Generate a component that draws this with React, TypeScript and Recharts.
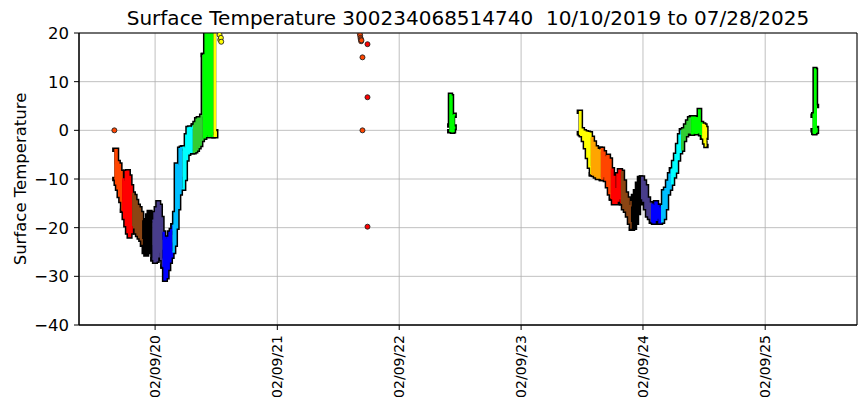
import React from 'react';
import { ComposedChart, Area, Scatter, XAxis, YAxis, CartesianGrid, ReferenceArea } from 'recharts';

const W = 863;
const H = 408;
const FONT = '"DejaVu Sans", sans-serif';

const titleText = 'Surface Temperature 300234068514740  10/10/2019 to 07/28/2025';
const yLabelText = 'Surface Temperature';
const firstDate = '2019-10-10';
const lastDate = '2025-07-28';

const xTickDates = ['2020-02-09', '2021-02-09', '2022-02-09', '2023-02-09', '2024-02-09', '2025-02-09'];
const yTicks = [-40, -30, -20, -10, 0, 10, 20];

// colour of each calendar month (Jan..Dec)
const monthColors = ['#000000', '#483D8B', '#0000FF', '#00BFFF', '#00FFFF', '#32CD32', '#00FF00', '#FFFF00', '#FFA500', '#FF4500', '#FF0000', '#8B4513'];

// season 2019-2020: envelope (low .. high)
const season1Dates = [
  '2019-10-10', '2019-10-14', '2019-10-18', '2019-10-23', '2019-10-28',
  '2019-11-02', '2019-11-07', '2019-11-12', '2019-11-17', '2019-11-22', '2019-11-27',
  '2019-12-02', '2019-12-07', '2019-12-12', '2019-12-17', '2019-12-22', '2019-12-27',
  '2020-01-01', '2020-01-06', '2020-01-11', '2020-01-16', '2020-01-21', '2020-01-26',
  '2020-02-01', '2020-02-06', '2020-02-11', '2020-02-16', '2020-02-21', '2020-02-26',
  '2020-03-02', '2020-03-07', '2020-03-12', '2020-03-17', '2020-03-22', '2020-03-27',
  '2020-04-01', '2020-04-06', '2020-04-11', '2020-04-16', '2020-04-21', '2020-04-26',
  '2020-05-01', '2020-05-06', '2020-05-11', '2020-05-16', '2020-05-21', '2020-05-26',
  '2020-06-01', '2020-06-06', '2020-06-11', '2020-06-16', '2020-06-21', '2020-06-26',
  '2020-07-01', '2020-07-04', '2020-07-08', '2020-07-13', '2020-07-18', '2020-07-23', '2020-07-28',
  '2020-08-02', '2020-08-06', '2020-08-10',
];
const season1High = [
  -4.0, -4.0, -6.5, -7.0, -8.5,
  -10.0, -10.5, -8.5, -8.4, -9.5, -11.5,
  -13.0, -13.5, -14.5, -15.5, -16.0, -17.0,
  -18.5, -19.5, -19.0, -17.5, -16.8, -18.0,
  -18.5, -17.0, -16.0, -14.8, -15.5, -18.0,
  -21.0, -22.0, -22.5, -22.0, -21.0, -20.5,
  -19.5, -17.0, -7.0, -7.3, -3.8, -3.6,
  -3.5, -3.8, -1.0, 0.5, 0.6, 0.5,
  1.0, 1.5, 2.3, 2.5, 2.5, 3.0,
  15.5, 9.0, 21.0, 21.0, 21.0, 21.0, 21.0,
  21.0, 21.0, 21.0,
];
const season1Low = [
  -10.0, -11.0, -12.0, -13.5, -14.5,
  -16.5, -18.0, -19.5, -21.0, -21.8, -21.0,
  -19.5, -20.0, -21.0, -21.5, -22.0, -22.5,
  -23.5, -25.0, -25.5, -25.0, -24.0, -25.0,
  -26.5, -27.0, -26.8, -26.0, -25.0, -26.5,
  -28.0, -30.7, -30.2, -28.5, -27.0, -26.0,
  -25.0, -23.5, -20.0, -16.0, -13.0, -12.0,
  -12.0, -10.0, -6.0, -4.8, -4.5, -4.5,
  -4.5, -4.3, -4.0, -3.5, -3.0, -2.0,
  -1.5, -1.5, -1.2, -0.8, -1.2, -0.8, -1.2,
  -1.2, -1.2, -0.2,
];

// season 2022
const season2Dates = ['2022-07-09', '2022-07-11', '2022-07-14', '2022-07-17', '2022-07-20', '2022-07-23', '2022-07-25'];
const season2High = [1.0, 7.3, 7.0, 1.5, 3.0, 3.2, 3.0];
const season2Low = [-0.2, -0.2, -0.2, -0.3, -0.2, 0.5, 0.8];

// season 2023-2024
const season3Dates = [
  '2023-08-01', '2023-08-04', '2023-08-07', '2023-08-13', '2023-08-19', '2023-08-25', '2023-08-31',
  '2023-09-06', '2023-09-12', '2023-09-18', '2023-09-24', '2023-09-30',
  '2023-10-06', '2023-10-12', '2023-10-18', '2023-10-24', '2023-10-30',
  '2023-11-05', '2023-11-11', '2023-11-17', '2023-11-23', '2023-11-29',
  '2023-12-05', '2023-12-11', '2023-12-17', '2023-12-23', '2023-12-29',
  '2024-01-04', '2024-01-10', '2024-01-16', '2024-01-22', '2024-01-28',
  '2024-02-03', '2024-02-09', '2024-02-15', '2024-02-21', '2024-02-27',
  '2024-03-04', '2024-03-10', '2024-03-16', '2024-03-22', '2024-03-28',
  '2024-04-03', '2024-04-09', '2024-04-15', '2024-04-21', '2024-04-27',
  '2024-05-03', '2024-05-09', '2024-05-15', '2024-05-21', '2024-05-27',
  '2024-06-02', '2024-06-08', '2024-06-14', '2024-06-20', '2024-06-26',
  '2024-07-02', '2024-07-08', '2024-07-14', '2024-07-20', '2024-07-25', '2024-07-29',
  '2024-08-04', '2024-08-10', '2024-08-14', '2024-08-17',
];
const season3High = [
  3.8, 3.8, 0.2, -0.2, -0.4, -0.5, -0.6,
  -1.5, -2.5, -3.5, -4.0, -4.2,
  -3.8, -4.5, -5.5, -5.2, -6.0,
  -8.0, -9.5, -12.0, -9.0, -8.2,
  -8.5, -10.5, -13.0, -14.0, -15.5,
  -14.5, -13.5, -12.5, -11.0, -9.8,
  -9.7, -10.5, -11.5, -14.0, -15.0,
  -15.2, -15.5, -14.8, -15.5, -16.0,
  -15.5, -12.5, -12.0, -10.5, -9.0,
  -8.0, -6.5, -5.0, -3.0, -1.0,
  0.0, 0.2, 1.0, 1.8, 2.5,
  2.7, 2.7, 2.6, 2.5, 4.2, 1.5,
  1.2, 1.0, 0.5, -1.5,
];
const season3Low = [
  -0.6, -0.8, -1.0, -2.0, -3.5, -5.5, -7.5,
  -9.0, -9.2, -9.5, -9.8, -9.8,
  -10.0, -9.5, -10.2, -11.5, -13.0,
  -14.0, -15.0, -15.0, -14.5, -14.0,
  -15.0, -16.0, -16.5, -17.5, -19.0,
  -20.2, -20.0, -19.0, -17.0, -15.0,
  -14.0, -14.5, -16.0, -17.5, -18.0,
  -18.8, -19.0, -18.5, -18.0, -19.0,
  -18.8, -18.0, -16.0, -13.0, -12.0,
  -11.0, -9.5, -8.5, -6.0, -4.5,
  -4.0, -2.0, -1.0, -0.5, -0.5,
  -0.7, -0.5, -0.6, -0.5, -0.5, -0.8,
  -1.5, -2.5, -3.2, -3.2,
];

// season 2025
const season4Dates = ['2025-07-01', '2025-07-03', '2025-07-05', '2025-07-07', '2025-07-09', '2025-07-11', '2025-07-14'];
const season4High = [3.0, 3.3, 3.0, 12.6, 12.4, 5.0, 5.0];
const season4Low = [0.0, -0.5, -0.6, -0.6, -0.4, -0.3, 0.5];

// isolated readings
const dotDates = [
  '2019-10-10', '2020-08-20', '2020-08-22', '2020-08-24', '2020-08-25',
  '2021-10-14', '2021-10-15', '2021-10-16', '2021-10-17', '2021-10-18', '2021-10-19',
  '2021-10-22', '2021-10-22', '2021-11-06', '2021-11-06', '2021-11-06',
];
const dotValues = [
  0.0, 19.6, 18.6, 19.0, 18.2,
  19.9, 19.5, 19.0, 18.7, 18.3, 18.5,
  15.0, 0.0, 17.7, 6.8, -19.8,
];

const DAY = 86400000;
const toMs = (s: string) => Date.parse(s + 'T00:00:00Z');
const monthOf = (t: number) => new Date(t).getUTCMonth();

const seasons = [
  { dates: season1Dates, high: season1High, low: season1Low },
  { dates: season2Dates, high: season2High, low: season2Low },
  { dates: season3Dates, high: season3High, low: season3Low },
  { dates: season4Dates, high: season4High, low: season4Low },
];

const rows: any[] = [];
seasons.forEach((s) => {
  let prev = -1;
  s.dates.forEach((d, i) => {
    const t = toMs(d);
    const m = monthOf(t);
    const row: any = { t };
    row['m' + m] = [s.low[i], s.high[i]];
    if (prev >= 0 && prev !== m) row['m' + prev] = [s.low[i], s.high[i]];
    prev = m;
    rows.push(row);
  });
  rows.push({ t: toMs(s.dates[s.dates.length - 1]) + DAY });
});

const dots = dotDates.map((d, i) => ({ t: toMs(d), v: dotValues[i], m: monthOf(toMs(d)) }));

const t0 = toMs(firstDate);
const t1 = toMs(lastDate);
const pad = (t1 - t0) * 0.05;
const xDomain = [t0 - pad, t1 + pad];
const xTicks = xTickDates.map(toMs);

const two = (n: number) => (n < 10 ? '0' + n : String(n));
const fmtDate = (v: number) => {
  const d = new Date(v);
  return two(d.getUTCMonth() + 1) + '/' + two(d.getUTCDate()) + '/' + two(d.getUTCFullYear() % 100);
};
const fmtY = (v: number) => (v < 0 ? '\u2212' + Math.abs(v) : String(v));

const XTick = (props: any) => {
  const { x, y, payload } = props;
  return (
    <text
      x={x}
      y={y}
      transform={`rotate(-90, ${x}, ${y})`}
      textAnchor="end"
      dominantBaseline="central"
      fontSize={14}
      fontFamily={FONT}
      fill="#000"
    >
      {fmtDate(payload.value)}
    </text>
  );
};

const renderDot = (p: any) => (
  <circle cx={p.cx} cy={p.cy} r={2.5} fill={monthColors[p.payload.m]} stroke="#222" strokeWidth={0.9} />
);

export default function App() {
  return (
    <div style={{ position: 'absolute', left: 0, top: 0, width: W, height: H, background: '#fff' }}>
      <ComposedChart width={W} height={H} data={rows} margin={{ top: 33, right: 6, bottom: 0, left: 0 }}>
        <CartesianGrid stroke="#b0b0b0" strokeWidth={0.8} />
        <XAxis
          type="number"
          dataKey="t"
          domain={xDomain}
          allowDataOverflow
          ticks={xTicks}
          tick={<XTick />}
          height={83}
          tickSize={5}
          tickMargin={5}
          axisLine={{ stroke: '#000' }}
          tickLine={{ stroke: '#000' }}
          interval={0}
        />
        <YAxis
          type="number"
          domain={[-40, 20]}
          allowDataOverflow
          ticks={yTicks}
          tickFormatter={fmtY}
          width={79}
          tickSize={5}
          tickMargin={5}
          axisLine={{ stroke: '#000' }}
          tickLine={{ stroke: '#000' }}
          tick={{ fill: '#000', fontSize: 16.5, fontFamily: FONT }}
          interval={0}
        />
        {monthColors.map((c, m) => (
          <Area
            key={'o' + m}
            dataKey={'m' + m}
            type="stepAfter"
            fill="#000"
            fillOpacity={1}
            stroke="#000"
            strokeWidth={4.5}
            strokeLinecap="square"
            dot={false}
            activeDot={false}
            connectNulls={false}
            isAnimationActive={false}
          />
        ))}
        {monthColors.map((c, m) => (
          <Area
            key={'f' + m}
            dataKey={'m' + m}
            type="stepAfter"
            fill={c}
            fillOpacity={1}
            stroke={c}
            strokeWidth={1.5}
            dot={false}
            activeDot={false}
            connectNulls={false}
            isAnimationActive={false}
          />
        ))}
        <Scatter data={dots} dataKey="v" isAnimationActive={false} shape={renderDot} />
        <ReferenceArea x1={xDomain[0]} x2={xDomain[1]} y1={-40} y2={20} fill="none" stroke="#000" strokeWidth={1} ifOverflow="visible" />
      </ComposedChart>
      <svg width={W} height={H} style={{ position: 'absolute', left: 0, top: 0, pointerEvents: 'none' }}>
        <text x={468} y={25} textAnchor="middle" fontSize={20} fontFamily={FONT} fill="#000" style={{ whiteSpace: 'pre' }}>
          {titleText}
        </text>
        <text
          x={0}
          y={0}
          transform="translate(26, 179) rotate(-90)"
          textAnchor="middle"
          fontSize={16.5}
          fontFamily={FONT}
          fill="#000"
        >
          {yLabelText}
        </text>
      </svg>
    </div>
  );
}
